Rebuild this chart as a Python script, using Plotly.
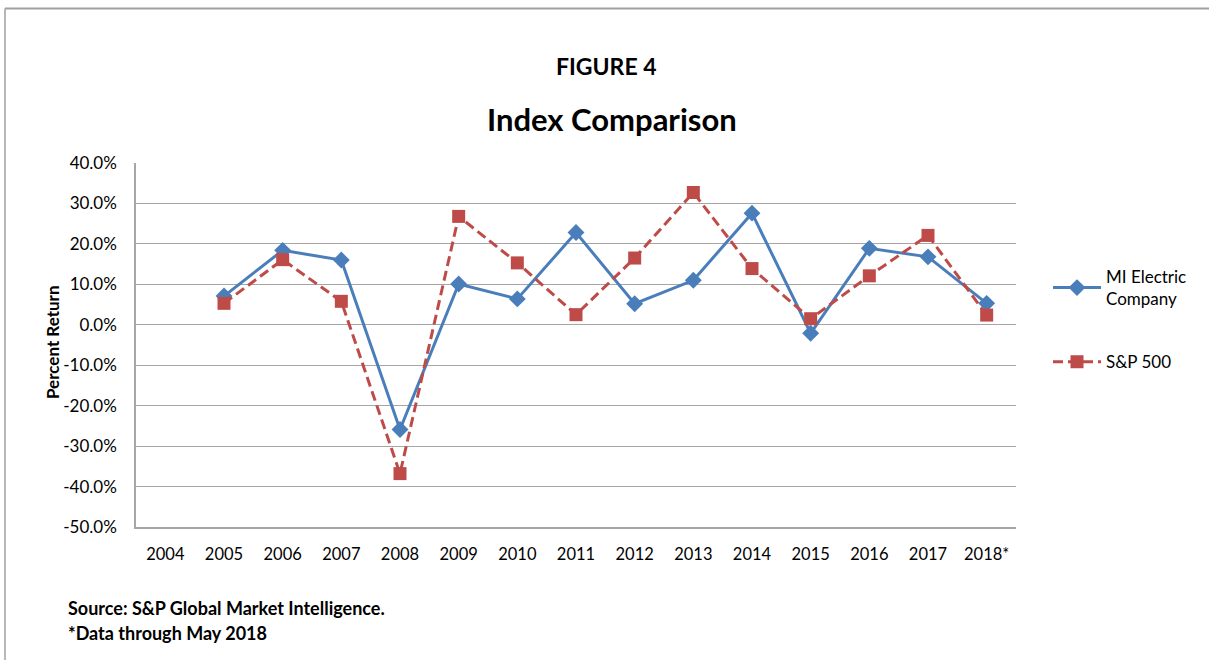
import plotly.graph_objects as go

categories = ["2004", "2005", "2006", "2007", "2008", "2009", "2010", "2011",
              "2012", "2013", "2014", "2015", "2016", "2017", "2018*"]
mi_electric = [None, 7.1, 18.4, 16.0, -25.9, 10.1, 6.4, 22.8, 5.2, 11.0, 27.6, -2.1, 18.9, 16.8, 5.3]
sp500 = [None, 5.3, 16.1, 5.8, -36.8, 26.8, 15.3, 2.5, 16.5, 32.7, 13.9, 1.5, 12.1, 22.1, 2.4]
y_ticks = [40, 30, 20, 10, 0, -10, -20, -30, -40, -50]

BLUE = "#4a7ebb"
RED = "#be4b48"
FONT = "Lato"

W, H = 1209, 660
L, R, T, B = 136, 1016, 163, 527

def px(x):
    return (x - L) / (R - L)

def py(y):
    return (B - y) / (B - T)

fig = go.Figure()
fig.add_trace(go.Scatter(
    x=categories, y=mi_electric, name="MI Electric<br>Company",
    mode="lines+markers", legendgroup="a",
    line=dict(color=BLUE, width=3),
    marker=dict(symbol="diamond", size=13, color=BLUE),
))
fig.add_trace(go.Scatter(
    x=categories, y=sp500, name="S&P 500",
    mode="lines+markers", legendgroup="b",
    line=dict(color=RED, width=3, dash="10px,5px"),
    marker=dict(symbol="square", size=13, color=RED),
))

fig.update_layout(
    width=W, height=H,
    margin=dict(l=L, r=W - R, t=T, b=H - B),
    paper_bgcolor="white", plot_bgcolor="white",
    font=dict(family=FONT, size=16, color="black"),
    showlegend=True,
    legend=dict(
        x=px(1048), y=py(259), xanchor="left", yanchor="top",
        traceorder="grouped", tracegroupgap=38,
        font=dict(family=FONT, size=17, color="black"),
        bgcolor="rgba(0,0,0,0)", itemwidth=48,
    ),
    xaxis=dict(
        type="category", categoryorder="array", categoryarray=categories,
        range=[-0.5, len(categories) - 0.5],
        showgrid=False, showline=True, linecolor="#a6a6a6", linewidth=1.5,
        ticks="", tickfont=dict(family=FONT, size=16.5), ticklabelstandoff=11,
        zeroline=False,
    ),
    yaxis=dict(
        range=[-50, 40], tickvals=y_ticks,
        ticktext=[f"{v:.1f}%" for v in y_ticks],
        showgrid=True, gridcolor="#a6a6a6", gridwidth=1.2,
        showline=True, linecolor="#a6a6a6", linewidth=1.5,
        zeroline=False, ticks="", tickfont=dict(family=FONT, size=17),
        ticklabelstandoff=14,
    ),
    annotations=[
        dict(text="<b>FIGURE 4</b>", x=px(606), y=py(66), xref="paper", yref="paper",
             xanchor="center", yanchor="middle",
             showarrow=False, font=dict(family=FONT, size=23)),
        dict(text="<b>Index Comparison</b>", x=px(612), y=py(119), xref="paper", yref="paper",
             xanchor="center", yanchor="middle",
             showarrow=False, font=dict(family=FONT, size=31)),
        dict(text="<b>Percent Return</b>", x=px(52), y=py(342), xref="paper", yref="paper",
             xanchor="center", yanchor="middle", textangle=-90,
             showarrow=False, font=dict(family=FONT, size=17)),
        dict(text="<b>Source: S&P Global Market Intelligence.</b>", x=px(66), y=py(608),
             xref="paper", yref="paper", xanchor="left", yanchor="middle", showarrow=False,
             font=dict(family=FONT, size=18)),
        dict(text="<b>*Data through May 2018</b>", x=px(66), y=py(633),
             xref="paper", yref="paper", xanchor="left", yanchor="middle", showarrow=False,
             font=dict(family=FONT, size=18)),
    ],
    shapes=[
        dict(type="line", xref="paper", yref="paper", x0=px(5), x1=px(1209),
             y0=py(8.5), y1=py(8.5), line=dict(color="#a0a0a0", width=2)),
        dict(type="line", xref="paper", yref="paper", x0=px(5), x1=px(5),
             y0=py(8.5), y1=py(660), line=dict(color="#a0a0a0", width=1.5)),
    ],
)

fig.write_html(
    "out.html",
    config={"displayModeBar": False},
    post_script="document.body.style.margin='0';document.body.style.padding='0';document.body.style.overflow='hidden';",
)
